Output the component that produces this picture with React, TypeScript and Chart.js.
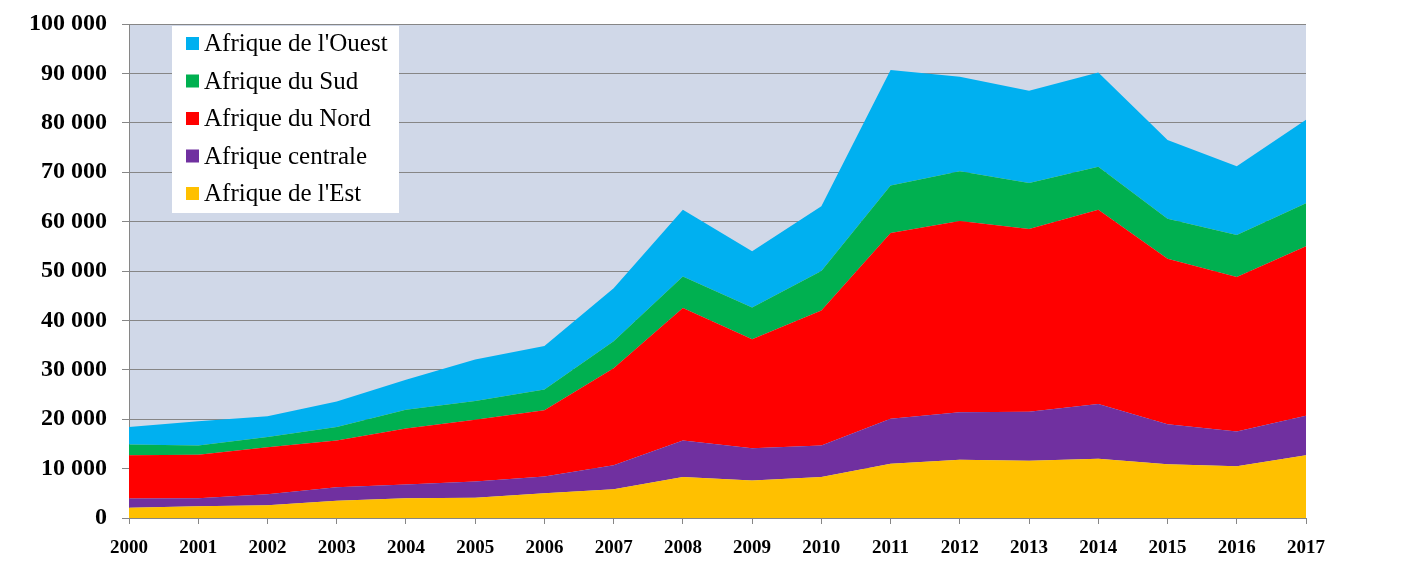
import React, { useEffect, useRef } from "react";
import { Chart, registerables } from "chart.js";

Chart.register(...registerables);

const years = ["2000", "2001", "2002", "2003", "2004", "2005", "2006", "2007", "2008", "2009", "2010", "2011", "2012", "2013", "2014", "2015", "2016", "2017"];

const afriqueEst = [2100, 2400, 2600, 3500, 4000, 4100, 5000, 5800, 8300, 7600, 8300, 11000, 11800, 11600, 12000, 10900, 10500, 12700];
const afriqueCentrale = [1850, 1600, 2200, 2700, 2800, 3300, 3400, 4900, 7400, 6500, 6400, 9100, 9600, 9900, 11100, 8100, 7000, 8000];
const afriqueNord = [8750, 8800, 9500, 9500, 11300, 12500, 13400, 19600, 26800, 22100, 27300, 37600, 38700, 37000, 39300, 33500, 31300, 34300];
const afriqueSud = [2200, 1900, 2100, 2700, 3800, 3800, 4200, 5500, 6400, 6400, 8000, 9600, 10100, 9300, 8700, 8100, 8500, 8700];
const afriqueOuest = [3500, 4900, 4200, 5200, 6100, 8400, 8800, 10700, 13500, 11400, 13100, 23400, 19100, 18700, 19100, 15900, 13900, 16900];

const seriesLabels = ["Afrique de l'Est", "Afrique centrale", "Afrique du Nord", "Afrique du Sud", "Afrique de l'Ouest"];
const seriesValues = [afriqueEst, afriqueCentrale, afriqueNord, afriqueSud, afriqueOuest];
const seriesColors = ["#FFC000", "#7030A0", "#FF0000", "#00B050", "#00B0F0"];

const yMin = 0;
const yMax = 100000;
const yStep = 10000;

const formatThousands = (v: number) => String(v).replace(/\B(?=(\d{3})+(?!\d))/g, " ");

const plotBgPlugin = {
  id: "plotBg",
  beforeDraw(chart: any) {
    const { ctx, chartArea } = chart;
    if (!chartArea) return;
    ctx.save();
    ctx.fillStyle = "#D0D8E8";
    ctx.fillRect(chartArea.left, chartArea.top, chartArea.right - chartArea.left, chartArea.bottom - chartArea.top);
    ctx.restore();
  },
};

const insideLegendPlugin = {
  id: "insideLegend",
  afterDraw(chart: any) {
    const { ctx } = chart;
    const ds = chart.data.datasets;
    const boxX = 172;
    const boxY = 26;
    const boxW = 227;
    const boxH = 187;
    ctx.save();
    ctx.fillStyle = "#FFFFFF";
    ctx.fillRect(boxX, boxY, boxW, boxH);
    ctx.font = "25px 'Liberation Serif'";
    ctx.textBaseline = "middle";
    ctx.textAlign = "left";
    const rowH = 37.5;
    const firstY = 43.5;
    for (let i = 0; i < ds.length; i++) {
      const d = ds[ds.length - 1 - i];
      const cy = firstY + i * rowH;
      ctx.fillStyle = d.backgroundColor;
      ctx.fillRect(186, cy - 6.5, 13, 13);
      ctx.fillStyle = "#000000";
      ctx.fillText(d.label, 204, cy + 1);
    }
    ctx.restore();
  },
};

export default function App() {
  const canvasRef = useRef<HTMLCanvasElement | null>(null);

  useEffect(() => {
    if (!canvasRef.current) return;
    const datasets = seriesValues.map((vals, i) => ({
      label: seriesLabels[i],
      data: vals,
      backgroundColor: seriesColors[i],
      borderColor: seriesColors[i],
      borderWidth: 0,
      pointRadius: 0,
      pointHoverRadius: 0,
      tension: 0,
      fill: i === 0 ? "origin" : "-1",
    }));

    const chart = new Chart(canvasRef.current, {
      type: "line",
      data: { labels: years, datasets: datasets as any },
      options: {
        animation: false,
        responsive: true,
        maintainAspectRatio: false,
        layout: { padding: { left: 0, top: 24, right: 100, bottom: 0 } },
        plugins: {
          legend: { display: false },
          tooltip: { enabled: false },
        },
        scales: {
          x: {
            type: "category",
            offset: false,
            grid: {
              display: true,
              drawOnChartArea: false,
              drawTicks: true,
              tickLength: 6,
              color: "#868686",
            },
            border: { display: true, color: "#868686", width: 1 },
            ticks: {
              color: "#000000",
              font: { family: "'Liberation Serif'", size: 19, weight: "bold" },
              padding: 13,
              maxRotation: 0,
              autoSkip: false,
            },
            afterFit(scale: any) {
              scale.height = 49;
              scale.paddingLeft = 0;
              scale.paddingRight = 0;
            },
          },
          y: {
            stacked: true,
            min: yMin,
            max: yMax,
            grid: {
              color: "#868686",
              tickLength: 7,
              drawTicks: true,
            },
            border: { display: true, color: "#868686", width: 1 },
            ticks: {
              stepSize: yStep,
              color: "#000000",
              font: { family: "'Liberation Serif'", size: 24, weight: "bold" },
              padding: 15,
              callback: (v: any) => formatThousands(Number(v)),
            },
            afterFit(scale: any) {
              scale.width = 129;
              scale.paddingTop = 0;
              scale.paddingBottom = 0;
            },
          },
        },
      },
      plugins: [plotBgPlugin, insideLegendPlugin],
    });

    return () => chart.destroy();
  }, []);

  return (
    <div style={{ position: "absolute", left: 0, top: 0, width: 1406, height: 567, background: "#FFFFFF" }}>
      <canvas ref={canvasRef} />
    </div>
  );
}
